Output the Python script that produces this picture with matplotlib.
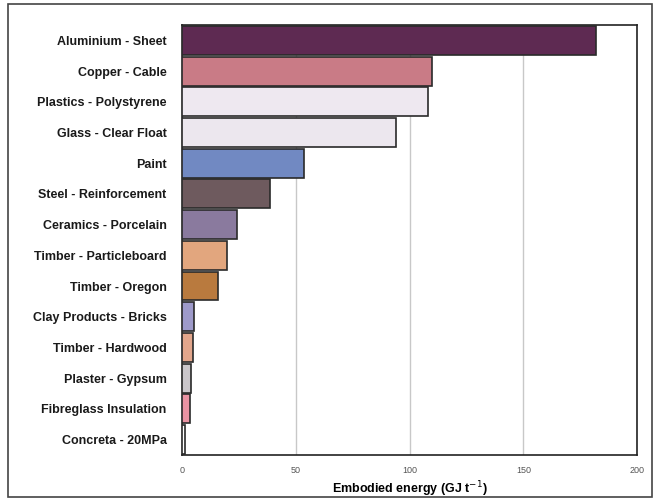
import matplotlib.pyplot as plt
from matplotlib.patches import Rectangle

materials = ['Aluminium - Sheet', 'Copper - Cable', 'Plastics - Polystyrene',
             'Glass - Clear Float', 'Paint', 'Steel - Reinforcement',
             'Ceramics - Porcelain', 'Timber - Particleboard', 'Timber - Oregon',
             'Clay Products - Bricks', 'Timber - Hardwood', 'Plaster - Gypsum',
             'Fibreglass Insulation', 'Concreta - 20MPa']
energy = [182, 110, 108, 94, 53.5, 38.5, 24, 20, 16, 5.5, 4.8, 4.0, 3.5, 1.3]
colors = ['#5e2a52', '#c97b86', '#eee8f0', '#ece7ee', '#7189c2', '#6e5a5e',
          '#8a7a9e', '#e2a67e', '#b97a3e', '#9e9aca', '#e2a68c', '#cac6ca',
          '#e993a3', '#ffffff']
xticks = [0, 50, 100, 150, 200]

plt.rcParams['font.family'] = ['Liberation Sans', 'DejaVu Sans']

fig = plt.figure(figsize=(6.59, 5.01), dpi=100)
ax = fig.add_axes([0.276, 0.092, 0.691, 0.858])

ypos = list(range(len(materials)))
ax.barh(ypos, energy, height=0.94, color=colors, edgecolor='#2a2a2a', linewidth=1.2, zorder=3)

ax.set_ylim(13.5, -0.5)
ax.set_xlim(0, 200)
ax.set_yticks(ypos)
ax.set_yticklabels(materials, fontsize=9, fontweight='bold', color='#1a1a1a')
ax.set_xticks(xticks)
ax.set_xticklabels([str(t) for t in xticks], fontsize=6.5, color='#555555')
ax.tick_params(axis='y', length=0, pad=11)
ax.tick_params(axis='x', length=0, pad=8)
ax.xaxis.grid(True, color='#c8c8c8', linewidth=1, zorder=0)
for s in ax.spines.values():
    s.set_color('#222222')
    s.set_linewidth(1.2)
ax.set_xlabel('Embodied energy (GJ t$^{-1}$)', fontsize=9, fontweight='bold', labelpad=3)

fig.patches.append(Rectangle((0.012, 0.008), 0.978, 0.984, transform=fig.transFigure,
                             fill=False, edgecolor='#444444', linewidth=1.2))

plt.savefig('out.png', dpi=100)
